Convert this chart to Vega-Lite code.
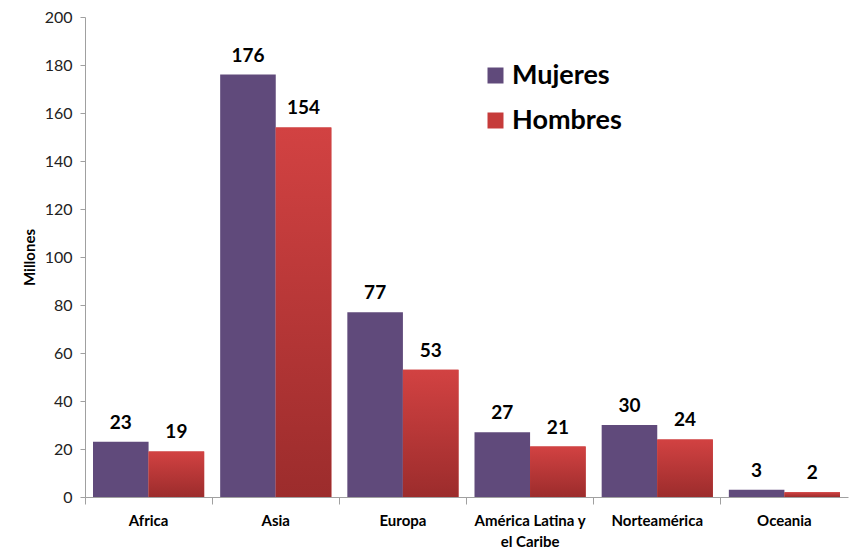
{
  "$schema": "https://vega.github.io/schema/vega-lite/v6.json",
  "width": 763,
  "height": 480,
  "autosize": {"type": "none"},
  "padding": {"left": 85, "top": 17, "right": 2, "bottom": 54},
  "background": "white",
  "config": {"view": {"stroke": null}, "font": "Lato"},
  "data": {
    "values": [
      {"Region": "Africa", "Sexo": "Mujeres", "Valor": 23},
      {"Region": "Africa", "Sexo": "Hombres", "Valor": 19},
      {"Region": "Asia", "Sexo": "Mujeres", "Valor": 176},
      {"Region": "Asia", "Sexo": "Hombres", "Valor": 154},
      {"Region": "Europa", "Sexo": "Mujeres", "Valor": 77},
      {"Region": "Europa", "Sexo": "Hombres", "Valor": 53},
      {"Region": "América Latina y el Caribe", "Sexo": "Mujeres", "Valor": 27},
      {"Region": "América Latina y el Caribe", "Sexo": "Hombres", "Valor": 21},
      {"Region": "Norteamérica", "Sexo": "Mujeres", "Valor": 30},
      {"Region": "Norteamérica", "Sexo": "Hombres", "Valor": 24},
      {"Region": "Oceania", "Sexo": "Mujeres", "Valor": 3},
      {"Region": "Oceania", "Sexo": "Hombres", "Valor": 2}
    ]
  },
  "encoding": {
    "x": {
      "field": "Region",
      "type": "nominal",
      "sort": null,
      "scale": {"paddingInner": 0, "paddingOuter": 0},
      "axis": {
        "title": null,
        "labelAngle": 0,
        "labelFontWeight": "bold",
        "labelFontSize": 15,
        "labelColor": "#000000",
        "labelPadding": 9,
        "labelLineHeight": 21,
        "labelExpr": "datum.label == 'América Latina y el Caribe' ? ['América Latina y', 'el Caribe'] : datum.label",
        "bandPosition": 0,
        "tickSize": 7,
        "tickColor": "#a0a0a0",
        "domainColor": "#a0a0a0",
        "grid": false
      }
    },
    "xOffset": {
      "field": "Sexo",
      "type": "nominal",
      "scale": {"domain": ["Mujeres", "Hombres"], "paddingInner": 0, "paddingOuter": 0.144}
    },
    "y": {
      "field": "Valor",
      "type": "quantitative",
      "scale": {"domain": [0, 200]},
      "axis": {
        "title": "Millones",
        "titleFontWeight": "bold",
        "titleFontSize": 15,
        "titleColor": "#000000",
        "titlePadding": 7,
        "values": [0, 20, 40, 60, 80, 100, 120, 140, 160, 180, 200],
        "labelFontSize": 16,
        "labelColor": "#222222",
        "labelPadding": 8,
        "tickSize": 5,
        "tickColor": "#a0a0a0",
        "domainColor": "#a0a0a0",
        "grid": false
      }
    }
  },
  "layer": [
    {
      "mark": {"type": "bar"},
      "encoding": {
        "color": {
          "field": "Sexo",
          "type": "nominal",
          "scale": {"domain": ["Mujeres", "Hombres"], "range": ["#604a7b", "#c63b3a"]},
          "legend": {
            "title": null,
            "orient": "none",
            "legendX": 397,
            "legendY": 45,
            "symbolType": "square",
            "symbolSize": 256,
            "symbolStrokeWidth": 0,
            "labelFontSize": 27,
            "labelFontWeight": "bold",
            "labelColor": "#000000",
            "labelOffset": 3,
            "rowPadding": 17
          }
        }
      }
    },
    {
      "transform": [{"filter": "datum.Sexo == 'Hombres'"}],
      "mark": {
        "type": "bar",
        "fill": {
          "gradient": "linear",
          "x1": 0, "y1": 0, "x2": 0, "y2": 1,
          "stops": [
            {"offset": 0, "color": "#d24242"},
            {"offset": 1, "color": "#9c2c2c"}
          ]
        }
      },
      "encoding": {}
    },
    {
      "mark": {"type": "text", "fontWeight": "bold", "fontSize": 19, "baseline": "bottom", "dy": -9, "color": "#000000"},
      "encoding": {"text": {"field": "Valor", "type": "quantitative"}}
    }
  ]
}
